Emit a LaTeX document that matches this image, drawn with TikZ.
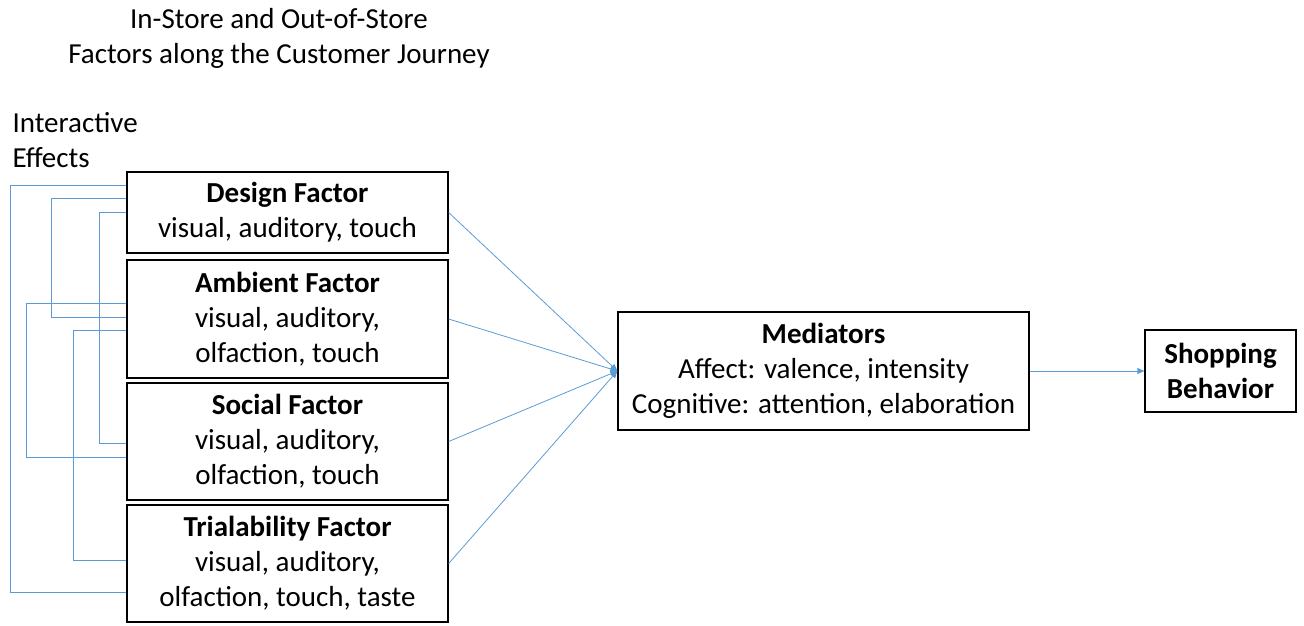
\documentclass[tikz,border=0pt]{standalone}
\usepackage{fontspec}
\setmainfont{Carlito}
\usetikzlibrary{arrows.meta,positioning}
\definecolor{linkblue}{RGB}{91,155,213}
\tikzset{
  factor/.style={draw=black,line width=1.3pt,minimum width=321pt,inner sep=0pt,align=center},
  link/.style={linkblue,line width=0.8pt},
  flow/.style={linkblue,line width=0.8pt,-{Triangle[width=6pt,length=7pt]}}
}
\begin{document}
\begin{tikzpicture}[x=1pt,y=-1pt,font=\fontsize{29}{35}\selectfont]
                \useasboundingbox (0,0) rectangle (1304,625);
                % title and side label
                \node[align=center] (title) at (279,38){In-Store and Out-of-Store\\Factors along the Customer Journey};
                \node[align=left,anchor=west] (inter) at (9,140){Interactive\\Effects};
                % factor boxes
                \node[factor,minimum height=81pt] (design) at (287.5,212.5){\textbf{Design Factor}\\visual, auditory, touch};
                \node[factor,minimum height=118pt] (ambient) at (287.5,319){\textbf{Ambient Factor}\\visual, auditory,\\olfaction, touch};
                \node[factor,minimum height=117pt] (social) at (287.5,441.5){\textbf{Social Factor}\\visual, auditory,\\olfaction, touch};
                \node[factor,minimum height=117pt] (trial) at (287.5,563.5){\textbf{Trialability Factor}\\visual, auditory,\\olfaction, touch, taste};
                % mediators and outcome
                \node[factor,minimum width=411pt,minimum height=118pt] (med) at (823.5,371){\textbf{Mediators}\\Affect: valence, intensity\\Cognitive: attention, elaboration};
                \node[factor,minimum width=151pt,minimum height=82pt] (shop) at (1220.5,371){\textbf{Shopping}\\\textbf{Behavior}};
                % interactive effects
                \draw[link] ([yshift=27.5pt]design.west) -- ++(-116,0) |- ([yshift=-28.5pt]trial.west);
                \draw[link] ([yshift=14.5pt]design.west) -- ++(-75,0) |- ([yshift=2pt]ambient.west);
                \draw[link] (design.west) -- ++(-27,0) |- ([yshift=-1.5pt]social.west);
                \draw[link] ([yshift=16pt]ambient.west) -- ++(-100,0) |- ([yshift=-15.5pt]social.west);
                \draw[link] ([yshift=-11pt]ambient.west) -- ++(-53,0) |- ([yshift=3.5pt]trial.west);
                % effects on mediators
                \draw[flow] (design.east) -- (med.west);
                \draw[flow] (ambient.east) -- (med.west);
                \draw[flow] (social.east) -- (med.west);
                \draw[flow] (trial.east) -- (med.west);
                \draw[flow] (med.east) -- (shop.west);
            \end{tikzpicture}
\end{document}
